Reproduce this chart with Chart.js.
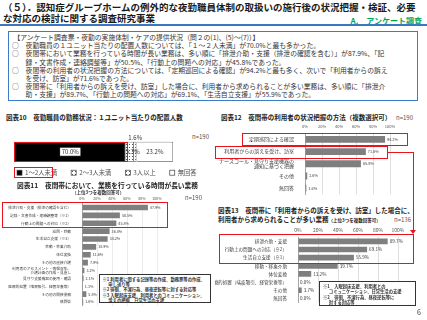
<!DOCTYPE html>
<html lang="ja">
<head>
<meta charset="utf-8">
<script src="https://cdn.jsdelivr.net/npm/chart.js@4.4.1/dist/chart.umd.min.js"></script>
<style>
  body { margin: 0; width: 427px; height: 320px; position: relative; overflow: hidden; background: #fff;
         font-family: "Noto Sans CJK JP", sans-serif; color: #222; }
  .t { position: absolute; white-space: pre; line-height: 1; transform: translateY(-50%); }
  .b { font-weight: bold; }
  canvas { position: absolute; }
  .red { position: absolute; border: 1.2px solid #e8141c; box-sizing: border-box; }
  .note { position: absolute; border: 0.8px solid #333; background: #fff; box-sizing: border-box;
          white-space: pre; font-weight: bold; color: #333; overflow: hidden; }
</style>
</head>
<body>

<div class="t b" style="left:3px;top:8px;font-size:9.5px;color:#1a1a1a">（５）．認知症グループホームの例外的な夜勤職員体制の取扱いの施行後の状況把握・検証、必要</div>
<div class="t b" style="left:3px;top:18.5px;font-size:9.5px;color:#1a1a1a">な対応の検討に関する調査研究事業</div>
<div class="t b" style="right:5px;top:21px;font-size:8px;color:#00a650">A.　アンケート調査</div>
<div style="position:absolute;left:0;top:24px;width:427px;height:1.5px;background:#3a78c2"></div>

<div style="position:absolute;left:8px;top:31px;width:410px;height:70px;border:1.5px solid #3a7cc6;box-sizing:border-box"></div>
<div id="summary" style="position:absolute;left:12px;top:33px;font-size:6.8px;line-height:8.2px;white-space:pre;color:#333"></div>

<div class="t b" style="left:6px;top:117px;font-size:6.5px">図表10　夜勤職員の勤務状況：１ユニット当たりの配置人数</div>
<div class="t" style="left:192px;top:137px;font-size:6px;color:#555">n=190</div>
<canvas id="c10" width="213" height="62" style="left:0;top:120px"></canvas>

<div class="t b" style="left:17px;top:185px;font-size:6.7px">図表11　夜間帯において、業務を行っている時間が長い業務</div>
<div class="t b" style="left:72px;top:192px;font-size:4.5px;color:#333">（上位3つを複数回答可）</div>
<div class="t" style="left:185px;top:197.5px;font-size:6px;color:#555">n=190</div>
<canvas id="c11" width="213" height="118" style="left:0;top:193px"></canvas>

<div class="t b" style="left:221px;top:117px;font-size:6.5px">図表12　夜間帯の利用者の状況把握の方法（複数選択可）</div>
<div class="t" style="left:396px;top:117.5px;font-size:6px;color:#555">n=190</div>
<canvas id="c12" width="212" height="80" style="left:215px;top:120px"></canvas>

<div class="t b" style="left:218px;top:210px;font-size:6.5px">図表13　夜間帯に「利用者からの訴えを受け、訪室」した場合に、</div>
<div class="t b" style="left:218px;top:219px;font-size:6.5px">利用者から求められることが多い業務<span style="font-size:4.5px">（上位3つを複数回答可）</span></div>
<div class="t" style="left:394px;top:219.5px;font-size:6px;color:#555">n=136</div>
<canvas id="c13" width="212" height="84" style="left:215px;top:224px"></canvas>

<!-- red highlight boxes -->
<div class="red" style="left:14px;top:141.5px;width:114px;height:20.5px"></div>
<div class="red" style="left:14px;top:167px;width:39px;height:11px"></div>
<div class="red" style="left:2px;top:202px;width:166px;height:26px"></div>
<div class="red" style="left:242px;top:133px;width:166px;height:13px"></div>
<div class="red" style="left:215px;top:146px;width:173px;height:13px"></div>
<div class="red" style="left:219px;top:234px;width:195px;height:30px"></div>
<div style="position:absolute;left:388px;top:152px;width:26px;height:1.2px;background:#e8141c"></div>
<div style="position:absolute;left:412.8px;top:152px;width:1.2px;height:78px;background:#e8141c"></div>
<div style="position:absolute;left:410.4px;top:229.5px;width:0;height:0;border-left:3px solid transparent;border-right:3px solid transparent;border-top:4.5px solid #e8141c"></div>

<div class="note" style="left:99px;top:274px;width:112px;height:29px;padding:2px 0 0 2.5px;font-size:4.3px;line-height:5.2px">※1 利用者に関する記録等の作成、勤務票等の作成、
      申し送り等
※2 徘徊、不潔行為、昼夜逆転等に対する対応等
※3 入眠起床支援、利用者とのコミュニケーション、
      訴えの把握、日常生活の支援</div>
<div class="note" style="left:319px;top:281px;width:97px;height:25px;padding:2px 0 0 3px;font-size:4.3px;line-height:5.4px">※1　入眠起床支援、利用者との
      コミュニケーション、日常生活の支援
※2　徘徊、不潔行為、昼夜逆転等に
      対する対応等</div>

<div class="t" style="left:417px;top:312px;font-size:7px;color:#333">6</div>

<script>
// summary text of the survey
const summaryLines = [
  ' 【アンケート調査票・夜勤の実施体制・ケアの提供状況（問２の(1)、(5)～(7)）】',
  '○　夜勤職員の１ユニット当たりの配置人数については、「１～２人未満」が70.0%と最も多かった。',
  '○　夜間帯において業務を行っている時間が長い業務は、多い順に「排泄介助・支援（排泄の確認を含む）」が87.9%、「記',
  '　　録・文書作成・連絡調整等」が50.5%、「行動上の問題への対応」が45.8%であった。',
  '○　夜間帯の利用者の状況把握の方法については、「定期巡回による確認」が94.2%と最も多く、次いで「利用者からの訴え',
  '　　を受け、訪室」が71.6%であった。',
  '○　夜間帯に「利用者からの訴えを受け、訪室」した場合に、利用者から求められることが多い業務は、多い順に「排泄介',
  '　　助・支援」が89.7%、「行動上の問題への対応」が69.1%、「生活自立支援」が55.9%であった。'
];
document.getElementById('summary').textContent = summaryLines.join('\n');

// 図表10
const staffLabels = ['1～2人未満', '2～3人未満', '3人以上', '無回答'];
const staffValues = [70.0, 5.3, 1.6, 23.2];

// 図表11
const taskLabels = [
  '排泄介助・支援（排泄の確認を含む）',
  '記録・文書作成・連絡調整等（※1）',
  '行動上の問題への対応（※2）',
  '巡回・移動',
  '生活自立支援（※3）',
  '移動・移乗介助',
  '体位変換',
  'その他の直接介護',
  ['利用者のアセスメント・情報収集、', '介護計画の作成・見直し'],
  '見守り支援機器の使用・確認',
  '医療的処置（喀痰吸引、経管栄養等）',
  'その他の間接業務',
  '無回答'
];
const taskValues = [87.9, 50.5, 45.8, 36.8, 34.2, 18.9, 11.6, 7.9, 3.2, 2.1, 1.1, 5.8, 1.6];

// 図表12
const checkLabels = ['定期巡回による確認', '利用者からの訴えを受け、訪室', ['ナースコール・見守り支援機器の', '通知に基づく把握'], 'その他', '無回答'];
const checkValues = [94.2, 71.6, 65.8, 2.6, 1.6];

// 図表13
const requestLabels = ['排泄介助・支援', '行動上の問題への対応（※2）', '生活自立支援（※1）', '移動・移乗介助', '体位変換', '医療的処置（喀痰吸引、経管栄養等）', 'その他', '無回答'];
const requestValues = [89.7, 69.1, 55.9, 39.7, 13.2, 0.0, 3.7, 0.0];

const FONT = '"Noto Sans CJK JP", sans-serif';
Chart.defaults.font.family = FONT;

// percentage next to every bar
const valueLabels = {
  id: 'valueLabels',
  afterDatasetsDraw(chart, args, opts) {
    const ctx = chart.ctx;
    const meta = chart.getDatasetMeta(0);
    ctx.save();
    ctx.font = opts.size + 'px ' + FONT;
    ctx.fillStyle = '#404040';
    ctx.textBaseline = 'middle';
    meta.data.forEach((bar, i) => {
      const v = chart.data.datasets[0].data[i];
      ctx.fillText(v.toFixed(1) + '%', bar.x + opts.gap, bar.y);
    });
    ctx.restore();
  }
};

function hbar(id, labels, values, o) {
  return new Chart(document.getElementById(id), {
    type: 'bar',
    data: { labels: labels, datasets: [{ data: values, backgroundColor: '#7f7f7f', barPercentage: o.bar, categoryPercentage: 1 }] },
    options: {
      indexAxis: 'y', responsive: false, animation: false,
      layout: { padding: { left: 0, right: o.right, top: 0, bottom: 0 } },
      plugins: { legend: { display: false }, tooltip: { enabled: false }, valueLabels: { size: o.val, gap: 2 } },
      scales: {
        x: {
          position: 'top', min: 0, max: 100,
          ticks: { stepSize: 20, callback: v => v + '%', font: { size: o.tick }, color: '#595959', padding: o.tickPad, maxRotation: 0 },
          grid: { color: o.grid, drawTicks: false },
          border: { display: false },
          afterFit: s => { s.height = o.axisH; }
        },
        y: {
          ticks: { font: { size: o.label, lineHeight: 1.1 }, color: '#404040', padding: 3, autoSkip: false },
          grid: { display: false },
          border: { color: '#a6a6a6' },
          afterFit: s => { s.width = o.axisW; }
        }
      }
    },
    plugins: [valueLabels]
  });
}

hbar('c11', taskLabels, taskValues, { right: 56, axisW: 82, axisH: 10.6, bar: 0.72, tick: 3.6, tickPad: 3, label: 3.7, val: 3.7, grid: '#ececec' });
hbar('c12', checkLabels, checkValues, { right: 37, axisW: 90, axisH: 13.3, bar: 0.56, tick: 4, tickPad: 4, label: 5, val: 3.8, grid: '#dedede' });
hbar('c13', requestLabels, requestValues, { right: 29, axisW: 83, axisH: 13.3, bar: 0.7, tick: 5, tickPad: 4, label: 4.6, val: 4.6, grid: '#dedede' });

// 図表10: 100% stacked bar
function dots() {
  const p = document.createElement('canvas');
  p.width = 3; p.height = 3;
  const c = p.getContext('2d');
  c.fillStyle = '#fff'; c.fillRect(0, 0, 3, 3);
  c.fillStyle = '#555'; c.fillRect(0, 0, 1, 1);
  return c.createPattern(p, 'repeat');
}
const staffColors = ['#000000', dots(), dots(), '#ffffff'];

const stackLabels = {
  id: 'stackLabels',
  afterDatasetsDraw(chart) {
    const ctx = chart.ctx;
    ctx.save();
    ctx.font = '6px ' + FONT;
    ctx.textAlign = 'center';
    ctx.textBaseline = 'middle';
    chart.data.datasets.forEach((ds, i) => {
      const el = chart.getDatasetMeta(i).data[0];
      const txt = ds.data[0].toFixed(1) + '%';
      const cx = (el.base + el.x) / 2;
      let cy = el.y;
      if (i === 0) {
        const w = ctx.measureText(txt).width + 4;
        ctx.fillStyle = '#fff';
        ctx.fillRect(cx - w / 2, cy - 4.5, w, 9);
        ctx.strokeStyle = '#000';
        ctx.lineWidth = 0.8;
        ctx.strokeRect(cx - w / 2, cy - 4.5, w, 9);
      }
      if (i === 2) cy = el.y - el.height / 2 - 3.5;
      ctx.fillStyle = '#333';
      ctx.fillText(txt, cx + (i === 1 ? 3 : 0), cy);
    });
    ctx.restore();
  }
};

const stackLegend = {
  id: 'stackLegend',
  afterDraw(chart) {
    const ctx = chart.ctx;
    const y = chart.chartArea.bottom + 1.3;
    let x = 17;
    ctx.save();
    ctx.font = '6.3px ' + FONT;
    ctx.textBaseline = 'middle';
    chart.data.datasets.forEach(ds => {
      ctx.fillStyle = ds.backgroundColor;
      ctx.fillRect(x, y - 2.5, 5, 5);
      ctx.strokeStyle = '#404040';
      ctx.lineWidth = 0.7;
      ctx.strokeRect(x, y - 2.5, 5, 5);
      ctx.fillStyle = '#555';
      ctx.fillText(ds.label, x + 8, y);
      x += 8 + ctx.measureText(ds.label).width + 14;
    });
    ctx.restore();
  }
};

new Chart(document.getElementById('c10'), {
  type: 'bar',
  data: {
    labels: [''],
    datasets: staffLabels.map((l, i) => ({
      label: l, data: [staffValues[i]], backgroundColor: staffColors[i],
      borderColor: '#404040', borderWidth: 0.8, barPercentage: 0.51, categoryPercentage: 1
    }))
  },
  options: {
    indexAxis: 'y', responsive: false, animation: false,
    layout: { padding: { left: 15, right: 40, top: 0, bottom: 10.6 } },
    plugins: { legend: { display: false }, tooltip: { enabled: false } },
    scales: {
      x: {
        stacked: true, position: 'top', min: 0, max: 100,
        ticks: { stepSize: 20, callback: v => v + '%', font: { size: 6 }, color: '#595959', padding: 2, maxRotation: 0 },
        grid: { display: false }, border: { display: false },
        afterFit: s => { s.height = 12; }
      },
      y: { stacked: true, display: false }
    }
  },
  plugins: [stackLabels, stackLegend]
});
</script>
</body>
</html>
